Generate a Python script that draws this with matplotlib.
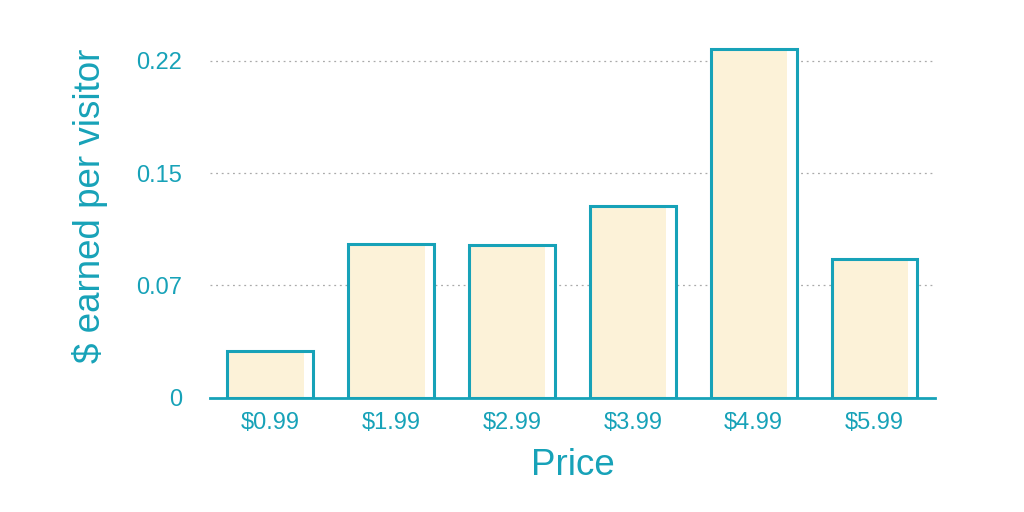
import numpy as np
import matplotlib
matplotlib.use("Agg")
import matplotlib.pyplot as plt

# data
prices = ["$0.99", "$1.99", "$2.99", "$3.99", "$4.99", "$5.99"]
earned = [0.031, 0.103, 0.102, 0.128, 0.233, 0.093]
ytick_vals = [0, 0.075, 0.15, 0.225]
ytick_labels = ["0", "0.07", "0.15", "0.22"]

teal = "#17a2b8"
cream = "#fcf2d8"

plt.rcParams['font.family'] = ['Liberation Sans', 'DejaVu Sans']

fig = plt.figure(figsize=(10.24, 5.12), dpi=100)
ax = fig.add_axes([0.205, 0.2227, 0.708, 0.703])

x = np.arange(len(prices))
w = 0.71
# white face under the outline, cream fill a bit narrower on the left side
ax.bar(x, earned, width=w, color="white", edgecolor="none", zorder=2)
ax.bar(x - w / 2, earned, width=w * 0.89, align="edge", color=cream,
       edgecolor="none", zorder=3)
ax.bar(x, earned, width=w, facecolor="none", edgecolor=teal,
       linewidth=2.2, zorder=4)

ax.set_xlim(-0.5, 5.5)
ax.set_ylim(0, 0.24)
ax.set_xticks(x)
ax.set_xticklabels(prices)
ax.set_yticks(ytick_vals)
ax.set_yticklabels(ytick_labels)
ax.tick_params(axis="both", length=0, labelsize=17, labelcolor=teal)
ax.tick_params(axis="x", pad=10)
ax.tick_params(axis="y", pad=20)

for v in ytick_vals[1:]:
    ax.axhline(v, color="#aaaaaa", linestyle=(0, (1.5, 3)), linewidth=0.9, zorder=1)

for s in ["top", "right", "left"]:
    ax.spines[s].set_visible(False)
ax.spines["bottom"].set_color(teal)
ax.spines["bottom"].set_linewidth(2)
ax.spines["bottom"].set_zorder(5)

ax.set_xlabel("Price", fontsize=26.5, color=teal, labelpad=10)
ax.set_ylabel("$ earned per visitor", fontsize=26.5, color=teal, labelpad=20)
ax.yaxis.label.set_y(0.535)

fig.savefig("out.png", dpi=100)
